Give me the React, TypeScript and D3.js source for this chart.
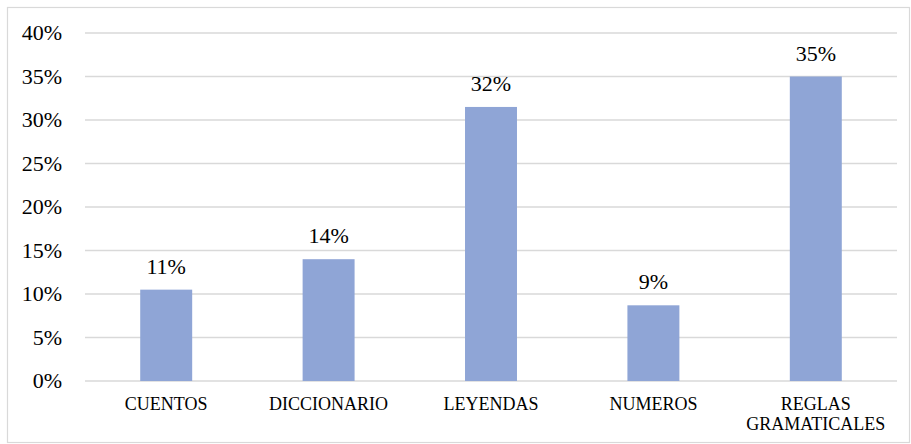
import React from "react";
import * as d3 from "d3";

const categories: string[][] = [["CUENTOS"], ["DICCIONARIO"], ["LEYENDAS"], ["NUMEROS"], ["REGLAS", "GRAMATICALES"]];
const values: number[] = [0.105, 0.14, 0.315, 0.087, 0.35];
const valueLabels: string[] = ["11%", "14%", "32%", "9%", "35%"];
const yTicks: number[] = [0, 0.05, 0.1, 0.15, 0.2, 0.25, 0.3, 0.35, 0.4];

const W = 911;
const H = 444;
const margin = { left: 85, right: 14, top: 33, bottom: 63 };
const textStyle = { fontFamily: "Liberation Serif" };

export default function App() {
  const x = d3
    .scaleBand<number>()
    .domain(d3.range(values.length))
    .range([margin.left, W - margin.right])
    .paddingInner(0.68)
    .paddingOuter(0.34);
  const y = d3.scaleLinear().domain([0, 0.4]).range([H - margin.bottom, margin.top]);
  const fmt = d3.format(".0%");

  return (
    <svg
      width={W}
      height={H}
      style={{ position: "absolute", left: 0, top: 0 }}
    >
      <rect x={7.5} y={7.5} width={902} height={435} fill="#fff" stroke="#d9d9d9" strokeWidth={1.2} />
      {yTicks.map((t) => (
        <g key={t}>
          <line
            x1={margin.left}
            x2={W - margin.right}
            y1={y(t)}
            y2={y(t)}
            stroke="#d9d9d9"
            strokeWidth={1.5}
          />
          <text x={62} y={y(t)} dy="0.33em" textAnchor="end" fontSize={22} style={textStyle} fill="#000">
            {fmt(t)}
          </text>
        </g>
      ))}
      {values.map((v, i) => (
        <g key={i}>
          <rect
            x={x(i)!}
            y={y(v)}
            width={x.bandwidth()}
            height={y(0) - y(v)}
            fill="#8fa5d6"
          />
          <text
            x={x(i)! + x.bandwidth() / 2}
            y={y(v) - 16}
            textAnchor="middle"
            fontSize={22}
            style={textStyle}
            fill="#000"
          >
            {valueLabels[i]}
          </text>
          {categories[i].map((line, j) => (
            <text
              key={j}
              x={x(i)! + x.bandwidth() / 2}
              y={410 + j * 20}
              textAnchor="middle"
              fontSize={18}
              style={textStyle}
              fill="#000"
            >
              {line}
            </text>
          ))}
        </g>
      ))}
    </svg>
  );
}
